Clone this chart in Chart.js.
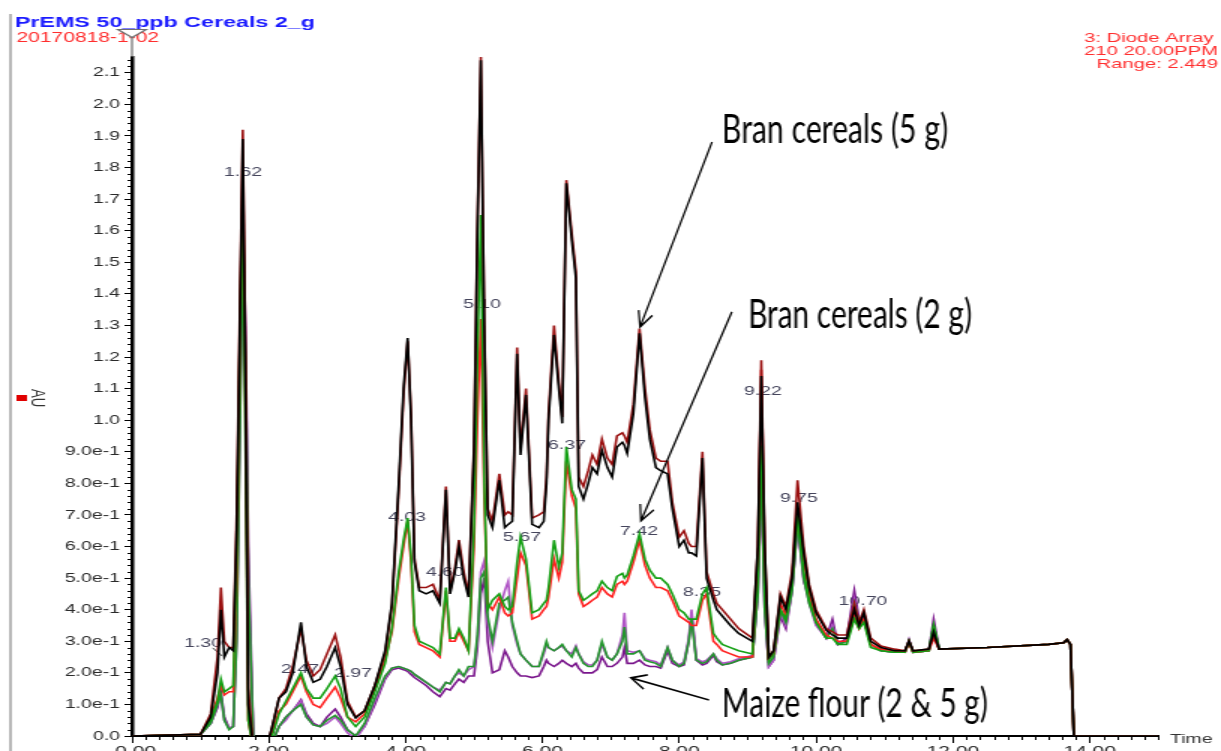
<!DOCTYPE html>
<html><head><meta charset="utf-8">
<script src="https://cdn.jsdelivr.net/npm/chart.js@4.4.1/dist/chart.umd.min.js"></script>
<style>
html,body{margin:0;padding:0;background:#fff;overflow:hidden;width:1221px;height:751px;}
#wrap{position:absolute;left:0;top:0;width:814px;height:751px;transform:scale(1.5,1);transform-origin:0 0;}
canvas{display:block;}
</style></head><body>
<div id="wrap"><canvas id="c" width="814" height="751" style="width:814px;height:751px"></canvas></div>
<script>
// ---- retention time (min) ----
const TIME = [0,1.00,1.15,1.25,1.30,1.35,1.42,1.48,1.53,1.58,
 1.62,1.66,1.70,1.78,1.95,2.05,2.15,2.25,2.35,2.47,
 2.55,2.65,2.75,2.85,2.97,3.05,3.15,3.27,3.40,3.55,
 3.70,3.80,3.90,3.97,4.03,4.08,4.13,4.20,4.30,4.40,
 4.50,4.59,4.65,4.72,4.78,4.85,4.92,5.00,5.05,5.10,
 5.15,5.20,5.27,5.37,5.45,5.50,5.56,5.63,5.68,5.76,
 5.85,5.95,6.02,6.06,6.09,6.17,6.24,6.29,6.35,6.43,
 6.49,6.53,6.60,6.67,6.73,6.80,6.87,6.95,7.02,7.09,
 7.17,7.20,7.24,7.33,7.42,7.50,7.57,7.66,7.73,7.83,
 7.90,8.00,8.07,8.14,8.18,8.25,8.34,8.40,8.50,8.55,
 8.63,8.75,8.87,9.07,9.15,9.20,9.25,9.31,9.38,9.48,
 9.56,9.65,9.73,9.82,9.90,10.00,10.15,10.24,10.32,10.45,
 10.56,10.63,10.70,10.80,10.95,11.15,11.30,11.36,11.42,11.65,
 11.72,11.80,12.50,13.40,13.62,13.67,13.72,13.77,15.00];

// ---- absorbance (AU) per trace ----
const BRAN5_A = [0,0.005,0.06,0.20,0.40,0.25,0.28,0.27,0.65,1.35,
 1.89,1.10,0.10,-0.05,-0.05,0.03,0.12,0.14,0.20,0.36,
 0.22,0.17,0.18,0.22,0.28,0.22,0.10,0.057,0.08,0.16,
 0.27,0.42,0.80,1.10,1.26,1.00,0.55,0.46,0.45,0.46,
 0.42,0.78,0.45,0.52,0.60,0.50,0.44,0.90,1.60,2.14,
 1.30,0.70,0.66,0.81,0.66,0.67,0.68,1.21,0.89,1.08,
 0.67,0.66,0.68,0.80,1.00,1.27,1.10,0.99,1.75,1.57,
 1.45,0.79,0.75,0.80,0.85,0.83,0.905,0.85,0.82,0.915,
 0.93,0.92,0.895,1.02,1.275,1.07,0.94,0.85,0.84,0.83,
 0.72,0.60,0.62,0.58,0.58,0.57,0.88,0.50,0.43,0.40,
 0.38,0.35,0.325,0.30,0.60,1.14,0.60,0.25,0.27,0.44,
 0.40,0.50,0.74,0.58,0.47,0.39,0.335,0.32,0.31,0.31,
 0.40,0.35,0.39,0.30,0.28,0.27,0.27,0.30,0.27,0.275,
 0.33,0.275,0.28,0.29,0.295,0.305,0.29,0,0];
const BRAN5_B = [0,0.005,0.07,0.25,0.47,0.30,0.28,0.28,0.70,1.40,
 1.92,1.20,0.15,-0.05,-0.05,0.03,0.12,0.15,0.22,0.34,
 0.24,0.19,0.21,0.26,0.32,0.25,0.11,0.06,0.08,0.16,
 0.26,0.41,0.78,1.08,1.25,1.02,0.56,0.47,0.47,0.48,
 0.43,0.79,0.46,0.53,0.62,0.52,0.45,0.92,1.62,2.15,
 1.32,0.72,0.68,0.83,0.70,0.71,0.70,1.23,0.91,1.10,
 0.69,0.70,0.71,0.82,1.02,1.30,1.12,1.01,1.76,1.59,
 1.47,0.82,0.79,0.84,0.89,0.86,0.94,0.88,0.86,0.95,
 0.96,0.95,0.93,1.05,1.29,1.10,0.97,0.88,0.87,0.87,
 0.74,0.63,0.65,0.61,0.60,0.60,0.90,0.52,0.45,0.42,
 0.40,0.37,0.34,0.31,0.60,1.19,0.60,0.25,0.27,0.45,
 0.41,0.52,0.81,0.60,0.48,0.40,0.34,0.33,0.32,0.32,
 0.42,0.36,0.40,0.31,0.285,0.275,0.27,0.30,0.27,0.275,
 0.32,0.275,0.28,0.29,0.295,0.305,0.29,0,0];
const BRAN2_A = [0,0.005,0.06,0.12,0.16,0.13,0.14,0.14,0.50,1.30,
 1.82,1.00,0.05,-0.05,-0.05,0.01,0.08,0.10,0.14,0.19,
 0.14,0.10,0.09,0.12,0.155,0.12,0.06,0.045,0.07,0.15,
 0.24,0.33,0.50,0.60,0.68,0.55,0.33,0.29,0.28,0.27,
 0.25,0.46,0.30,0.30,0.33,0.30,0.27,0.60,1.00,1.32,
 0.75,0.42,0.40,0.44,0.39,0.38,0.39,0.50,0.58,0.54,
 0.37,0.38,0.40,0.41,0.44,0.56,0.50,0.55,0.87,0.76,
 0.72,0.45,0.41,0.42,0.43,0.44,0.47,0.45,0.44,0.48,
 0.49,0.48,0.49,0.55,0.62,0.54,0.50,0.47,0.47,0.46,
 0.43,0.38,0.37,0.36,0.35,0.35,0.43,0.45,0.30,0.29,
 0.27,0.26,0.25,0.25,0.55,1.16,0.55,0.245,0.26,0.42,
 0.38,0.50,0.72,0.56,0.45,0.37,0.32,0.31,0.30,0.30,
 0.38,0.34,0.37,0.29,0.275,0.27,0.265,0.295,0.265,0.27,
 0.31,0.275,0.28,0.29,0.295,0.305,0.29,0,0];
const BRAN2_B = [0,0.005,0.05,0.11,0.18,0.14,0.15,0.16,0.55,1.30,
 1.73,0.90,0.05,-0.05,-0.05,0,0.07,0.11,0.15,0.20,
 0.15,0.12,0.12,0.15,0.19,0.15,0.06,0.03,0.06,0.14,
 0.23,0.34,0.52,0.62,0.69,0.57,0.35,0.30,0.29,0.28,
 0.26,0.47,0.31,0.31,0.34,0.31,0.27,0.65,1.20,1.65,
 0.80,0.40,0.43,0.45,0.41,0.40,0.41,0.55,0.63,0.56,
 0.39,0.40,0.42,0.43,0.47,0.62,0.535,0.58,0.915,0.78,
 0.75,0.46,0.43,0.44,0.45,0.46,0.49,0.47,0.46,0.505,
 0.515,0.50,0.51,0.57,0.64,0.56,0.525,0.50,0.50,0.48,
 0.45,0.40,0.39,0.37,0.37,0.37,0.45,0.47,0.325,0.31,
 0.29,0.28,0.27,0.26,0.50,0.92,0.45,0.24,0.26,0.40,
 0.37,0.48,0.70,0.52,0.43,0.36,0.31,0.31,0.29,0.29,
 0.37,0.34,0.36,0.28,0.27,0.265,0.265,0.30,0.265,0.27,
 0.35,0.275,0.28,0.29,0.295,0.305,0.29,0,0];
const MAIZE_A = [0,0.005,0.04,0.10,0.13,0.05,0.02,0.03,0.30,1.00,
 1.50,1.20,0.50,-0.05,-0.05,-0.02,0.03,0.06,0.08,0.10,
 0.06,0.035,0.03,0.05,0.065,0.05,0.02,0,0.04,0.12,
 0.19,0.215,0.22,0.215,0.21,0.205,0.195,0.185,0.17,0.155,
 0.14,0.17,0.165,0.19,0.21,0.19,0.22,0.22,0.32,0.50,
 0.52,0.38,0.30,0.42,0.43,0.44,0.36,0.30,0.26,0.24,
 0.22,0.22,0.27,0.30,0.28,0.27,0.28,0.29,0.27,0.25,
 0.28,0.26,0.23,0.22,0.22,0.24,0.30,0.25,0.24,0.26,
 0.30,0.345,0.26,0.26,0.27,0.24,0.235,0.23,0.22,0.28,
 0.24,0.22,0.23,0.30,0.37,0.24,0.23,0.235,0.26,0.24,
 0.225,0.23,0.24,0.25,0.45,0.85,0.40,0.23,0.25,0.40,
 0.36,0.46,0.68,0.50,0.42,0.36,0.31,0.34,0.29,0.30,
 0.42,0.36,0.37,0.29,0.27,0.265,0.265,0.30,0.265,0.27,
 0.35,0.275,0.28,0.29,0.295,0.305,0.29,0,0];
const MAIZE_B = [0,0.005,0.04,0.10,0.12,0.05,0.025,0.03,0.30,1.00,
 1.55,1.20,0.50,-0.05,-0.05,-0.02,0.03,0.05,0.08,0.11,
 0.06,0.035,0.03,0.04,0.06,0.04,0.01,-0.01,0.03,0.11,
 0.185,0.215,0.22,0.215,0.21,0.205,0.195,0.185,0.17,0.155,
 0.145,0.17,0.165,0.19,0.20,0.19,0.21,0.22,0.30,0.52,
 0.555,0.36,0.28,0.40,0.46,0.49,0.35,0.29,0.26,0.24,
 0.22,0.22,0.26,0.29,0.28,0.27,0.28,0.285,0.27,0.26,
 0.285,0.26,0.235,0.225,0.225,0.24,0.29,0.25,0.24,0.26,
 0.32,0.39,0.27,0.265,0.27,0.245,0.24,0.235,0.225,0.28,
 0.24,0.225,0.235,0.31,0.40,0.245,0.235,0.24,0.26,0.245,
 0.23,0.235,0.245,0.255,0.45,0.80,0.40,0.22,0.24,0.39,
 0.35,0.46,0.68,0.50,0.42,0.35,0.31,0.35,0.29,0.30,
 0.43,0.35,0.37,0.29,0.27,0.265,0.265,0.30,0.265,0.27,
 0.34,0.275,0.28,0.29,0.295,0.305,0.29,0,0];
const MAIZE_C = [0,0.005,0.04,0.09,0.14,0.06,0.025,0.03,0.35,1.10,
 1.60,1.30,0.60,-0.05,-0.05,-0.02,0.03,0.06,0.08,0.115,
 0.07,0.04,0.03,0.06,0.085,0.06,0.02,0,0.03,0.10,
 0.18,0.21,0.215,0.21,0.205,0.195,0.185,0.175,0.16,0.14,
 0.125,0.15,0.145,0.165,0.18,0.17,0.19,0.19,0.28,0.45,
 0.50,0.30,0.20,0.21,0.27,0.25,0.22,0.20,0.19,0.19,
 0.185,0.19,0.22,0.24,0.23,0.22,0.23,0.24,0.23,0.22,
 0.23,0.215,0.20,0.20,0.20,0.21,0.25,0.22,0.22,0.23,
 0.25,0.28,0.23,0.23,0.24,0.225,0.22,0.22,0.215,0.27,
 0.23,0.22,0.225,0.30,0.39,0.24,0.225,0.23,0.255,0.235,
 0.225,0.23,0.24,0.25,0.45,0.82,0.40,0.22,0.24,0.38,
 0.34,0.46,0.67,0.49,0.44,0.36,0.31,0.37,0.29,0.31,
 0.46,0.37,0.38,0.29,0.27,0.265,0.265,0.305,0.265,0.27,
 0.37,0.275,0.28,0.29,0.295,0.305,0.29,0,0];

// ---- axis ticks ----
const X_TICKS = [0,2,4,6,8,10,12,14];
const X_LABELS = ['-0.00','2.00','4.00','6.00','8.00','10.00','12.00','14.00'];
const Y_TICKS = [0,0.1,0.2,0.3,0.4,0.5,0.6,0.7,0.8,0.9,1.0,1.1,1.2,1.3,1.4,1.5,1.6,1.7,1.8,1.9,2.0,2.1];
const Y_LABELS = ['0.0','1.0e-1','2.0e-1','3.0e-1','4.0e-1','5.0e-1','6.0e-1','7.0e-1','8.0e-1','9.0e-1',
  '1.0','1.1','1.2','1.3','1.4','1.5','1.6','1.7','1.8','1.9','2.0','2.1'];

// ---- peak labels (text, anchor time, anchor AU) ----
const PEAK_TEXT = ['1.62','1.30','2.47','2.97','4.03','4.60','5.10','5.67','6.37','7.42','8.35','9.22','9.75','10.70'];
const PEAK_T = [1.623,1.038,2.456,3.231,4.020,4.576,5.117,5.702,6.360,7.412,8.333,9.225,9.751,10.687];
const PEAK_V = [1.783,0.2945,0.212,0.1995,0.6935,0.519,1.365,0.630,0.9215,0.649,0.456,1.0925,0.7536,0.4275];

// ---- annotations ----
const NOTE_TEXT = ['Bran cereals (5 g)','Bran cereals (2 g)','Maize flour (2 & 5 g)'];
const NOTE_T0 = [8.626, 9.006, 8.626];
const NOTE_T1 = [11.93, 12.28, 12.51];
const NOTE_V  = [1.878, 1.292, 0.060];
const ARROW_FROM_T = [8.48, 8.77, 8.436];
const ARROW_FROM_V = [1.881, 1.343, 0.114];
const ARROW_TO_T   = [7.427, 7.44, 7.295];
const ARROW_TO_V   = [1.295, 0.681, 0.184];

const STRETCH = 1.5;
const FONT = '"Liberation Sans", Arial, sans-serif';

const overlay = {
  id: 'overlay',
  beforeDatasetsDraw(chart) {
    const {ctx, scales: {x, y}} = chart;
    ctx.save();
    ctx.font = '13px ' + FONT;
    ctx.fillStyle = '#45455c';
    ctx.textAlign = 'center';
    ctx.textBaseline = 'middle';
    PEAK_TEXT.forEach((s, i) => ctx.fillText(s, x.getPixelForValue(PEAK_T[i]), y.getPixelForValue(PEAK_V[i])));
    ctx.strokeStyle = '#444';
    ctx.lineWidth = 1;
    ctx.beginPath();
    ctx.moveTo(x.getPixelForValue(1.18), y.getPixelForValue(0.279));
    ctx.lineTo(x.getPixelForValue(1.32), y.getPixelForValue(0.253));
    ctx.stroke();
    ctx.restore();
  },
  afterDraw(chart) {
    const {ctx, chartArea: ca, scales: {x, y}} = chart;
    ctx.save();
    // minor ticks
    ctx.strokeStyle = '#000';
    ctx.lineWidth = 1;
    ctx.beginPath();
    for (let k = 1; k <= 107; k++) {
      if (k % 5 === 0) continue;
      const py = Math.round(y.getPixelForValue(k * 0.02)) + 0.5;
      ctx.moveTo(ca.left - 3, py); ctx.lineTo(ca.left, py);
    }
    for (let k = 1; k <= 75; k++) {
      if (k % 10 === 0) continue;
      const px = Math.round(x.getPixelForValue(k * 0.2)) + 0.5;
      ctx.moveTo(px, ca.bottom); ctx.lineTo(px, ca.bottom + 4);
    }
    ctx.stroke();
    // left frame line
    ctx.fillStyle = '#b8b8b8';
    ctx.fillRect(6, 14, 2, 751 - 14);
    // header texts
    ctx.textAlign = 'left';
    ctx.textBaseline = 'alphabetic';
    ctx.font = 'bold 15.5px ' + FONT;
    ctx.fillStyle = '#1a1aff';
    ctx.fillText('PrEMS 50_ppb Cereals 2_g', 10, 27);
    ctx.font = '14px ' + FONT;
    ctx.fillStyle = '#ff2e2e';
    ctx.fillText('20170818-1-02', 11, 42);
    ctx.textAlign = 'right';
    ctx.font = '13.5px ' + FONT;
    ctx.fillText('3: Diode Array', 809, 42);
    ctx.fillText('210 20.00PPM', 812, 55);
    ctx.fillText('Range: 2.449', 812, 68);
    // marker triangle above y axis
    ctx.strokeStyle = '#6e6e6e';
    ctx.lineWidth = 1.2;
    ctx.beginPath();
    ctx.moveTo(ca.left, 37); ctx.lineTo(ca.left, ca.top);
    ctx.stroke();
    ctx.beginPath();
    ctx.moveTo(ca.left - 9.5, 29.5); ctx.lineTo(ca.left + 9.5, 29.5); ctx.lineTo(ca.left, 37.5); ctx.closePath();
    ctx.fillStyle = '#fff'; ctx.fill(); ctx.stroke();
    // AU label
    ctx.fillStyle = '#e00000';
    ctx.fillRect(11, 395, 7, 6);
    ctx.save();
    ctx.translate(25, 398);
    ctx.rotate(Math.PI / 2);
    ctx.font = '13px ' + FONT;
    ctx.fillStyle = '#333';
    ctx.textAlign = 'center';
    ctx.textBaseline = 'middle';
    ctx.fillText('AU', 0, 0);
    ctx.restore();
    // Time label
    ctx.font = '13px ' + FONT;
    ctx.fillStyle = '#333';
    ctx.textAlign = 'left';
    ctx.fillText('Time', 780, 743);
    // annotations drawn in un-stretched space
    ctx.save();
    ctx.scale(1 / STRETCH, 1);
    const vx = t => x.getPixelForValue(t) * STRETCH;
    ctx.fillStyle = '#000';
    ctx.font = '40px Lato, "Open Sans", sans-serif';
    ctx.textAlign = 'left';
    ctx.textBaseline = 'alphabetic';
    NOTE_TEXT.forEach((s, i) => {
      const x0 = vx(NOTE_T0[i]), x1 = vx(NOTE_T1[i]), by = y.getPixelForValue(NOTE_V[i]);
      const w = ctx.measureText(s).width;
      ctx.save();
      ctx.translate(x0, by);
      ctx.scale((x1 - x0) / w, 1);
      ctx.fillText(s, 0, 0);
      ctx.restore();
    });
    ctx.strokeStyle = '#000';
    ctx.lineWidth = 1.8;
    ARROW_FROM_T.forEach((t, i) => {
      const X0 = vx(t), Y0 = y.getPixelForValue(ARROW_FROM_V[i]);
      const X1 = vx(ARROW_TO_T[i]), Y1 = y.getPixelForValue(ARROW_TO_V[i]);
      const ang = Math.atan2(Y1 - Y0, X1 - X0), L = 17, a = 0.45;
      ctx.beginPath();
      ctx.moveTo(X0, Y0); ctx.lineTo(X1, Y1);
      ctx.moveTo(X1 - L * Math.cos(ang - a), Y1 - L * Math.sin(ang - a));
      ctx.lineTo(X1, Y1);
      ctx.lineTo(X1 - L * Math.cos(ang + a), Y1 - L * Math.sin(ang + a));
      ctx.stroke();
    });
    ctx.restore();
    ctx.restore();
  }
};

const SERIES = [
  {label: 'Bran cereals 5 g (a)', data: BRAN5_A, color: '#000000'},
  {label: 'Bran cereals 5 g (b)', data: BRAN5_B, color: '#9a1010'},
  {label: 'Bran cereals 2 g (b)', data: BRAN2_B, color: '#14a014'},
  {label: 'Bran cereals 2 g (a)', data: BRAN2_A, color: '#ff2020'},
  {label: 'Maize flour (a)', data: MAIZE_A, color: '#22962c'},
  {label: 'Maize flour (b)', data: MAIZE_B, color: '#b055c6'},
  {label: 'Maize flour (c)', data: MAIZE_C, color: '#7a168c'}
];

new Chart(document.getElementById('c'), {
  type: 'line',
  data: {
    datasets: SERIES.map(s => ({
      label: s.label,
      data: TIME.map((t, i) => ({x: t, y: s.data[i]})),
      borderColor: s.color,
      borderWidth: 1.6,
      pointRadius: 0,
      fill: false,
      tension: 0
    }))
  },
  options: {
    responsive: false,
    animation: false,
    devicePixelRatio: 1,
    events: [],
    layout: {padding: {top: 57, right: 42, left: 0, bottom: 0}},
    plugins: {legend: {display: false}, tooltip: {enabled: false}},
    scales: {
      x: {
        type: 'linear', min: 0, max: 15,
        afterBuildTicks: s => { s.ticks = X_TICKS.map(v => ({value: v})); },
        afterFit: s => { s.height = 15; },
        ticks: {autoSkip: false, maxRotation: 0, padding: 1, color: '#2a2a2a',
          font: {family: FONT, size: 14}, callback: (v, i) => X_LABELS[i]},
        grid: {drawOnChartArea: false, tickLength: 7, tickColor: '#000', tickWidth: 1},
        border: {color: '#000', width: 2}
      },
      y: {
        type: 'linear', min: 0, max: 2.15,
        afterBuildTicks: s => { s.ticks = Y_TICKS.map(v => ({value: v})); },
        afterFit: s => { s.width = 88; },
        ticks: {autoSkip: false, padding: 3, color: '#2a2a2a',
          font: {family: FONT, size: 13}, callback: (v, i) => Y_LABELS[i]},
        grid: {drawOnChartArea: false, tickLength: 5, tickColor: '#000', tickWidth: 1},
        border: {color: '#000', width: 2.5}
      }
    }
  },
  plugins: [overlay]
});
</script>
</body></html>
